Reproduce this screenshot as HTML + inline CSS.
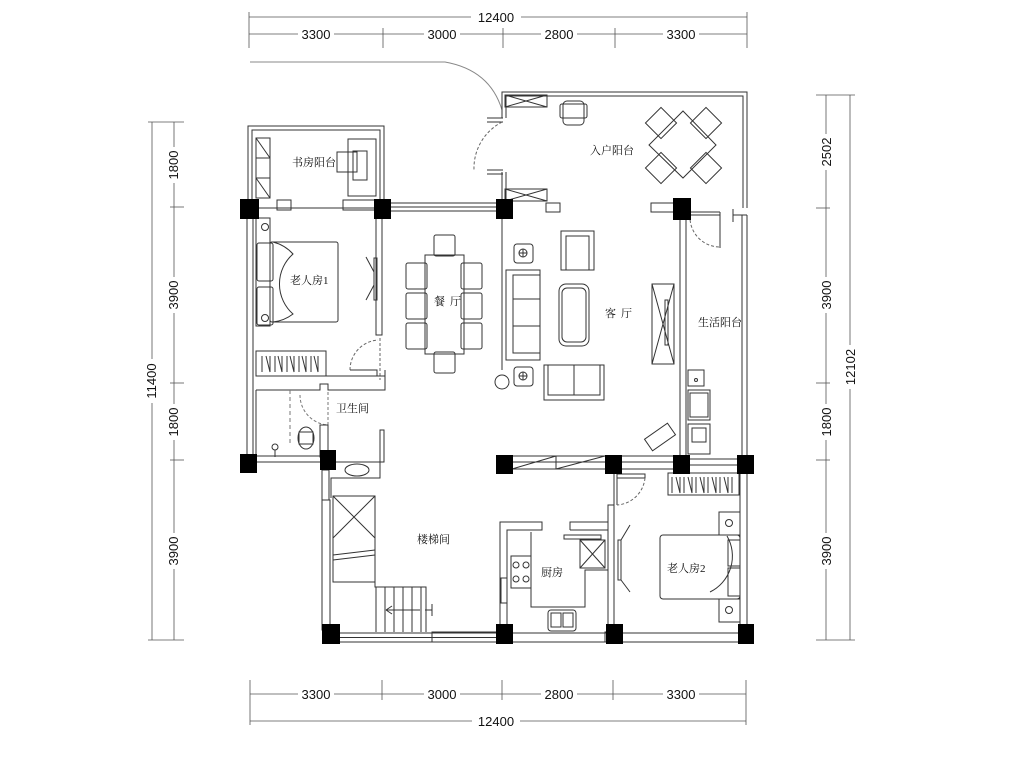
<!DOCTYPE html>
<html><head><meta charset="utf-8"><style>
html,body{margin:0;padding:0;background:#fff}
svg{display:block}
.d{font-family:"Liberation Sans",Arial,sans-serif;font-size:13px;fill:#111}
.c{font-family:"Liberation Serif","Noto Serif CJK SC","Noto Sans CJK SC",serif;font-size:11px;fill:#111}
</style></head><body>
<svg width="1024" height="768" viewBox="0 0 1024 768" xmlns="http://www.w3.org/2000/svg">
<rect width="1024" height="768" fill="#fff"/>
<g stroke="#555" stroke-width="0.8" fill="none">
<line x1="249" y1="17" x2="747" y2="17"/><line x1="249" y1="34" x2="747" y2="34"/>
<line x1="249" y1="12" x2="249" y2="48"/><line x1="747" y1="12" x2="747" y2="48"/>
<line x1="383" y1="28" x2="383" y2="48"/><line x1="503" y1="28" x2="503" y2="48"/><line x1="615" y1="28" x2="615" y2="48"/>
<line x1="250" y1="694" x2="746" y2="694"/><line x1="250" y1="721" x2="746" y2="721"/>
<line x1="250" y1="680" x2="250" y2="725"/><line x1="746" y1="680" x2="746" y2="725"/>
<line x1="382" y1="680" x2="382" y2="700"/><line x1="502" y1="680" x2="502" y2="700"/><line x1="613" y1="680" x2="613" y2="700"/>
<line x1="152" y1="122" x2="152" y2="640"/><line x1="174" y1="122" x2="174" y2="640"/>
<line x1="148" y1="122" x2="184" y2="122"/><line x1="148" y1="640" x2="184" y2="640"/>
<line x1="170" y1="207" x2="184" y2="207"/><line x1="170" y1="383" x2="184" y2="383"/><line x1="170" y1="460" x2="184" y2="460"/>
<line x1="826" y1="95" x2="826" y2="640"/><line x1="850" y1="95" x2="850" y2="640"/>
<line x1="816" y1="95" x2="855" y2="95"/><line x1="816" y1="640" x2="855" y2="640"/>
<line x1="816" y1="208" x2="830" y2="208"/><line x1="816" y1="383" x2="830" y2="383"/><line x1="816" y1="460" x2="830" y2="460"/>
</g>
<g class="d" text-anchor="middle">
<rect x="471" y="9" width="50" height="16" fill="#fff"/><text x="496" y="22">12400</text>
<g fill="#fff"><rect x="298" y="27" width="36" height="14"/><rect x="424" y="27" width="36" height="14"/><rect x="541" y="27" width="36" height="14"/><rect x="663" y="27" width="36" height="14"/></g>
<text x="316" y="39">3300</text><text x="442" y="39">3000</text><text x="559" y="39">2800</text><text x="681" y="39">3300</text>
<g fill="#fff"><rect x="298" y="687" width="36" height="14"/><rect x="424" y="687" width="36" height="14"/><rect x="541" y="687" width="36" height="14"/><rect x="663" y="687" width="36" height="14"/><rect x="472" y="713" width="48" height="16"/></g>
<text x="316" y="699">3300</text><text x="442" y="699">3000</text><text x="559" y="699">2800</text><text x="681" y="699">3300</text>
<text x="496" y="726">12400</text>
<g transform="translate(178,165) rotate(-90)"><rect x="-18" y="-11" width="36" height="14" fill="#fff"/><text y="0">1800</text></g>
<g transform="translate(178,295) rotate(-90)"><rect x="-18" y="-11" width="36" height="14" fill="#fff"/><text y="0">3900</text></g>
<g transform="translate(178,422) rotate(-90)"><rect x="-18" y="-11" width="36" height="14" fill="#fff"/><text y="0">1800</text></g>
<g transform="translate(178,551) rotate(-90)"><rect x="-18" y="-11" width="36" height="14" fill="#fff"/><text y="0">3900</text></g>
<g transform="translate(156,381) rotate(-90)"><rect x="-22" y="-11" width="44" height="14" fill="#fff"/><text y="0">11400</text></g>
<g transform="translate(831,152) rotate(-90)"><rect x="-18" y="-11" width="36" height="14" fill="#fff"/><text y="0">2502</text></g>
<g transform="translate(831,295) rotate(-90)"><rect x="-18" y="-11" width="36" height="14" fill="#fff"/><text y="0">3900</text></g>
<g transform="translate(831,422) rotate(-90)"><rect x="-18" y="-11" width="36" height="14" fill="#fff"/><text y="0">1800</text></g>
<g transform="translate(831,551) rotate(-90)"><rect x="-18" y="-11" width="36" height="14" fill="#fff"/><text y="0">3900</text></g>
<g transform="translate(855,367) rotate(-90)"><rect x="-22" y="-11" width="44" height="14" fill="#fff"/><text y="0">12102</text></g>
</g>
<g stroke="#333" stroke-width="1" fill="none">
<path d="M250 62 H445 Q490 70 502 110" stroke="#888"/>
<rect x="248" y="126" width="136" height="82"/><rect x="252" y="130" width="128" height="78"/>
<rect x="256" y="138" width="14" height="60"/><path d="M256 138 L270 158 M256 158 H270 M256 178 H270 M256 178 L270 198"/>
<rect x="348" y="139" width="28" height="57"/><rect x="337" y="152" width="20" height="20"/><rect x="353" y="151" width="14" height="29"/>
<rect x="277" y="200" width="14" height="10"/><rect x="343" y="200" width="38" height="10"/>
<path d="M390 203 H500 M390 207 H500 M390 211 H500"/>
<path d="M502 118 V92 H747 V208 M506 118 V96 H743 V208"/>
<path d="M502 172 V208 M506 172 V208"/>
<path d="M487 118 H503 M487 122 H503 M487 170 H503 M487 174 H503"/>
<path d="M502 122 A52 52 0 0 0 474 170" stroke-dasharray="3 2" stroke="#666"/>
<rect x="505" y="95" width="42" height="12"/><path d="M505 95 L547 107 M505 107 L547 95"/>
<rect x="505" y="189" width="42" height="12"/><path d="M505 189 L547 201 M505 201 L547 189"/>
<rect x="563" y="101" width="21" height="24" rx="4"/><rect x="560" y="104" width="27" height="14" rx="2"/>
<rect x="546" y="203" width="14" height="9"/><rect x="651" y="203" width="30" height="9"/>
<polygon points="683,111 716,145 683,178 649,145"/>
<g transform="translate(661,123) rotate(45)"><rect x="-11" y="-11" width="22" height="22"/></g>
<g transform="translate(706,123) rotate(45)"><rect x="-11" y="-11" width="22" height="22"/></g>
<g transform="translate(661,168) rotate(45)"><rect x="-11" y="-11" width="22" height="22"/></g>
<g transform="translate(706,168) rotate(45)"><rect x="-11" y="-11" width="22" height="22"/></g>
<!-- dining set -->
<rect x="425" y="255" width="39" height="99"/>
<rect x="434" y="235" width="21" height="21" rx="2"/><rect x="434" y="352" width="21" height="21" rx="2"/>
<rect x="406" y="263" width="21" height="26" rx="2"/><rect x="406" y="293" width="21" height="26" rx="2"/><rect x="406" y="323" width="21" height="26" rx="2"/>
<rect x="461" y="263" width="21" height="26" rx="2"/><rect x="461" y="293" width="21" height="26" rx="2"/><rect x="461" y="323" width="21" height="26" rx="2"/>
<path d="M247 215 V455 M253 215 V455"/>
<rect x="256" y="218" width="14" height="108"/><rect x="257" y="243" width="16" height="38" rx="2"/><rect x="257" y="287" width="16" height="38" rx="2"/>
<rect x="270" y="242" width="68" height="80" rx="2"/>
<path d="M273 242 A40 40 0 0 1 293 254 A40 40 0 0 0 293 314 A40 40 0 0 1 273 322"/>
<circle cx="265" cy="227" r="3.5"/><circle cx="265" cy="318" r="3.5"/>
<rect x="256" y="351" width="70" height="25"/>
<path d="M262 356 V372 M266 356 L270 372 V356 M275 356 V372 M278 356 L282 372 V356 M287 356 V372 M290 356 L294 372 V356 M299 356 V372 M302 356 L306 372 V356 M311 356 V372 M314 356 L318 372 V356"/>
<rect x="376" y="215" width="6" height="120"/><rect x="374" y="258" width="3" height="42"/>
<path d="M366 257 L374 272 M366 300 L374 285"/>
<path d="M350 370 A30 30 0 0 1 378 340" stroke-dasharray="3 2" stroke="#666"/><path d="M380 338 V380" stroke-dasharray="3 2" stroke="#666"/>
<path d="M350 370 H377 V376 H256 M377 376 H385 V370 V390 H350"/>
<path d="M256 390 H320 V384 H328 V390 H385 M256 390 V460"/>
<path d="M290 390 V445" stroke-dasharray="4 3" stroke="#777"/><path d="M328 392 V425" stroke-dasharray="3 2" stroke="#777"/>
<path d="M300 395 A30 30 0 0 0 328 425" stroke-dasharray="3 2" stroke="#777"/>
<rect x="320" y="425" width="8" height="32"/>
<ellipse cx="306" cy="438" rx="8" ry="11"/><rect x="299" y="432" width="14" height="12"/>
<circle cx="275" cy="447" r="3"/><path d="M275 450 V457"/>
<path d="M253 456 H322 M253 462 H322"/>
<rect x="322" y="470" width="7" height="30"/><rect x="322" y="500" width="8" height="130"/>
<path d="M329 462 H384 V430 H380 V478 H331 V498" />
<ellipse cx="357" cy="470" rx="12" ry="6"/>
<rect x="333" y="496" width="42" height="86"/><path d="M333 496 L375 538 M375 496 L333 538"/>
<path d="M333 555 L375 550 M333 560 L375 555"/>
<path d="M375 538 V587 H426 V632 M376 587 V632 M385 587 V632 M394 587 V632 M403 587 V632 M412 587 V632 M421 587 V632"/>
<path d="M386 610 H420 M386 610 L392 606 M386 610 L392 614 M432 604 V616 M425 610 H432"/>
<path d="M330 633 H750 M330 642 H750 M330 637.5 H500"/>
<rect x="432" y="632" width="68" height="10"/><rect x="605" y="632" width="12" height="10"/>
<path d="M502 215 V370" />
<circle cx="502" cy="382" r="7"/>
<rect x="514" y="244" width="19" height="19" rx="3"/><circle cx="523" cy="253" r="4"/><path d="M519 253 H527 M523 249 V257"/>
<rect x="514" y="367" width="19" height="19" rx="3"/><circle cx="523" cy="376" r="4"/><path d="M519 376 H527 M523 372 V380"/>
<rect x="506" y="270" width="34" height="90"/><rect x="513" y="275" width="27" height="24"/><rect x="513" y="299" width="27" height="27"/><rect x="513" y="326" width="27" height="27"/>
<rect x="561" y="231" width="33" height="39"/><rect x="566" y="236" width="23" height="34"/>
<rect x="559" y="284" width="30" height="62" rx="7"/><rect x="562" y="288" width="24" height="54" rx="5"/>
<rect x="544" y="365" width="60" height="35"/><rect x="548" y="365" width="26" height="30"/><rect x="574" y="365" width="26" height="30"/>
<rect x="652" y="284" width="22" height="80"/><path d="M652 284 L674 364 M674 284 L652 364"/><rect x="665" y="300" width="3" height="45"/>
<g transform="translate(660,437) rotate(-35)"><rect x="-14" y="-7" width="28" height="14"/></g>
<rect x="680" y="212" width="6" height="250"/>
<path d="M690 212 H720 M690 215 H720" />
<path d="M720 212 V248" /><path d="M690 215 A30 30 0 0 0 720 247" stroke-dasharray="3 2" stroke="#666"/>
<path d="M733 209 V215 H747 M733 215 V222 M742 215 V455 M747 215 V455"/>
<rect x="688" y="370" width="16" height="16"/><circle cx="696" cy="380" r="1.5"/>
<rect x="688" y="390" width="22" height="30"/><rect x="690" y="393" width="18" height="24"/>
<rect x="688" y="424" width="22" height="30"/><rect x="692" y="428" width="14" height="14"/>
<path d="M512 456 H680 M512 469 H680 M512 462 H680"/>
<path d="M512 469 L556 456 M556 456 V469 M556 469 L605 456"/>
<path d="M686 459 H742 M686 465 H742"/>
<rect x="668" y="473" width="71" height="22"/>
<path d="M672 477 V493 M676 477 L680 493 V477 M684 477 V493 M688 477 L692 493 V477 M696 477 V493 M700 477 L704 493 V477 M708 477 V493 M712 477 L716 493 V477 M720 477 V493 M724 477 L728 493 V477 M732 477 V493"/>
<rect x="740" y="470" width="7" height="160"/>
<rect x="719" y="512" width="21" height="23"/><circle cx="729" cy="523" r="3.5"/>
<rect x="719" y="599" width="21" height="23"/><circle cx="729" cy="610" r="3.5"/>
<rect x="660" y="535" width="80" height="64" rx="3"/>
<rect x="728" y="540" width="12" height="26"/><rect x="728" y="568" width="12" height="28"/>
<path d="M727 536 A40 40 0 0 1 710 592"/>
<path d="M614 470 V505 M617 470 V505"/>
<path d="M617 474 H645 V478 H617" /><path d="M645 478 A30 30 0 0 1 617 505" stroke-dasharray="3 2" stroke="#666"/>
<rect x="608" y="505" width="6" height="128"/>
<rect x="618" y="540" width="3" height="40"/><path d="M621 540 L630 525 M621 580 L630 592"/>
<path d="M500 633 V522 H542 V530 H507 V633 M570 530 V522 H608 M570 530 H608"/>
<rect x="564" y="535" width="37" height="4"/>
<path d="M531 532 V607 H585 V570 H608"/>
<rect x="511" y="556" width="20" height="32"/><circle cx="516" cy="565" r="3"/><circle cx="526" cy="565" r="3"/><circle cx="516" cy="579" r="3"/><circle cx="526" cy="579" r="3"/>
<rect x="501" y="578" width="6" height="25"/>
<rect x="580" y="540" width="25" height="28"/><path d="M580 540 L605 568 M605 540 L580 568"/>
<rect x="548" y="610" width="28" height="21" rx="3"/><rect x="551" y="613" width="10" height="14"/><rect x="563" y="613" width="10" height="14"/>
</g>
<g fill="#000">
<rect x="240" y="199" width="19" height="20"/><rect x="374" y="199" width="17" height="20"/><rect x="496" y="199" width="17" height="20"/><rect x="673" y="198" width="18" height="22"/>
<rect x="240" y="454" width="17" height="19"/><rect x="320" y="450" width="16" height="20"/><rect x="496" y="455" width="17" height="19"/><rect x="605" y="455" width="17" height="19"/><rect x="673" y="455" width="17" height="19"/><rect x="737" y="455" width="17" height="19"/>
<rect x="322" y="624" width="18" height="20"/><rect x="496" y="624" width="17" height="20"/><rect x="606" y="624" width="17" height="20"/><rect x="738" y="624" width="16" height="20"/>
</g>
<g class="c">
<text x="292" y="166">书房阳台</text>
<text x="290" y="284">老人房1</text>
<text x="434" y="305" letter-spacing="5">餐厅</text>
<text x="590" y="154">入户阳台</text>
<text x="605" y="317" letter-spacing="5">客厅</text>
<text x="698" y="326">生活阳台</text>
<text x="336" y="412">卫生间</text>
<text x="417" y="543">楼梯间</text>
<text x="541" y="576">厨房</text>
<text x="667" y="572">老人房2</text>
</g>
</svg>
</body></html>
